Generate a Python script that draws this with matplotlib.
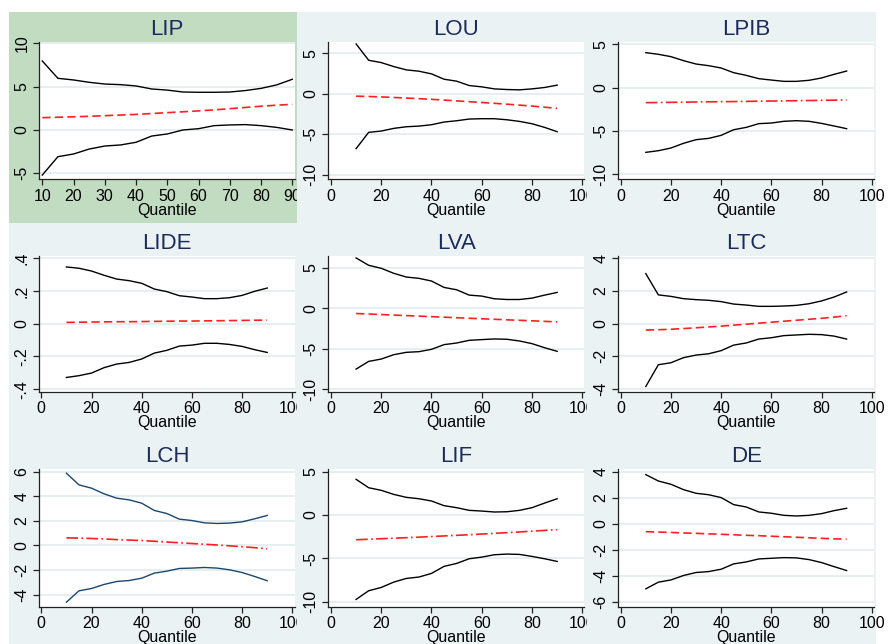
import matplotlib
matplotlib.use('Agg')
import matplotlib.pyplot as plt
from matplotlib.patches import Rectangle

plt.rcParams['font.family'] = ['Liberation Sans', 'DejaVu Sans']

# kuantil (sumbu x) untuk semua panel
kuantil = [10, 15, 20, 25, 30, 35, 40, 45, 50, 55, 60, 65, 70, 75, 80, 85, 90]

# LIP
lip_atas = [7.96, 5.96, 5.77, 5.5, 5.3, 5.23, 5.08, 4.73, 4.6, 4.38, 4.35, 4.35, 4.38, 4.55, 4.8, 5.2, 5.85]
lip_bawah = [-5.2, -3.08, -2.77, -2.2, -1.85, -1.73, -1.42, -0.7, -0.46, 0.0, 0.15, 0.5, 0.58, 0.62, 0.5, 0.3, 0.0]
lip_koef = [1.42, 1.47, 1.52, 1.58, 1.65, 1.72, 1.8, 1.9, 2.0, 2.1, 2.2, 2.32, 2.46, 2.6, 2.74, 2.86, 2.96]

# LOU
lou_atas = [6.15, 4.14, 3.85, 3.36, 2.95, 2.79, 2.46, 1.8, 1.56, 1.02, 0.86, 0.61, 0.53, 0.49, 0.61, 0.78, 1.07]
lou_bawah = [-6.76, -4.75, -4.59, -4.26, -4.06, -3.98, -3.81, -3.48, -3.32, -3.11, -3.07, -3.07, -3.2, -3.4, -3.69, -4.14, -4.67]
lou_koef = [-0.29, -0.33, -0.38, -0.45, -0.52, -0.6, -0.68, -0.77, -0.87, -0.97, -1.07, -1.17, -1.28, -1.39, -1.51, -1.65, -1.8]

# LPIB
lpib_atas = [4.04, 3.85, 3.58, 3.12, 2.73, 2.54, 2.27, 1.73, 1.42, 1.04, 0.88, 0.73, 0.73, 0.85, 1.12, 1.54, 1.92]
lpib_bawah = [-7.46, -7.27, -6.96, -6.42, -6.0, -5.85, -5.5, -4.85, -4.58, -4.15, -4.08, -3.88, -3.81, -3.88, -4.12, -4.42, -4.73]
lpib_koef = [-1.73, -1.71, -1.69, -1.67, -1.65, -1.63, -1.62, -1.6, -1.58, -1.56, -1.54, -1.52, -1.5, -1.48, -1.46, -1.44, -1.42]

# LIDE
lide_atas = [0.347, 0.339, 0.322, 0.296, 0.273, 0.263, 0.247, 0.212, 0.196, 0.171, 0.163, 0.153, 0.153, 0.159, 0.173, 0.198, 0.218]
lide_bawah = [-0.329, -0.318, -0.302, -0.269, -0.247, -0.237, -0.216, -0.18, -0.163, -0.137, -0.131, -0.12, -0.12, -0.127, -0.139, -0.159, -0.176]
lide_koef = [0.008, 0.009, 0.01, 0.011, 0.012, 0.012, 0.013, 0.014, 0.015, 0.016, 0.016, 0.017, 0.018, 0.019, 0.02, 0.021, 0.022]

# LVA
lva_atas = [6.2, 5.29, 4.92, 4.3, 3.84, 3.68, 3.35, 2.56, 2.27, 1.61, 1.49, 1.16, 1.07, 1.07, 1.24, 1.61, 1.94]
lva_bawah = [-7.52, -6.57, -6.28, -5.74, -5.45, -5.37, -5.08, -4.5, -4.3, -3.97, -3.88, -3.8, -3.84, -4.05, -4.38, -4.88, -5.33]
lva_koef = [-0.66, -0.72, -0.79, -0.85, -0.92, -0.98, -1.05, -1.11, -1.18, -1.24, -1.31, -1.37, -1.44, -1.5, -1.56, -1.63, -1.69]

# LTC
ltc_atas = [3.06, 1.76, 1.67, 1.53, 1.47, 1.43, 1.35, 1.2, 1.14, 1.06, 1.06, 1.08, 1.12, 1.22, 1.39, 1.63, 1.94]
ltc_bawah = [-3.84, -2.51, -2.39, -2.08, -1.92, -1.84, -1.65, -1.31, -1.18, -0.94, -0.86, -0.73, -0.69, -0.65, -0.67, -0.76, -0.94]
ltc_koef = [-0.39, -0.37, -0.34, -0.3, -0.25, -0.2, -0.15, -0.09, -0.03, 0.03, 0.09, 0.15, 0.21, 0.27, 0.33, 0.4, 0.49]

# LCH
lch_atas = [5.88, 4.93, 4.66, 4.2, 3.85, 3.71, 3.44, 2.85, 2.6, 2.14, 2.03, 1.84, 1.79, 1.82, 1.92, 2.17, 2.44]
lch_bawah = [-4.61, -3.69, -3.5, -3.17, -2.93, -2.85, -2.66, -2.25, -2.09, -1.87, -1.84, -1.79, -1.84, -1.98, -2.2, -2.52, -2.87]
lch_koef = [0.62, 0.6, 0.57, 0.53, 0.48, 0.44, 0.4, 0.34, 0.28, 0.22, 0.16, 0.1, 0.04, -0.03, -0.1, -0.18, -0.27]

# LIF
lif_atas = [4.12, 3.15, 2.85, 2.38, 2.04, 1.88, 1.62, 1.08, 0.85, 0.54, 0.46, 0.35, 0.38, 0.54, 0.85, 1.38, 1.88]
lif_bawah = [-9.73, -8.73, -8.35, -7.73, -7.31, -7.15, -6.73, -5.92, -5.58, -5.04, -4.85, -4.58, -4.5, -4.54, -4.77, -5.04, -5.35]
lif_koef = [-2.85, -2.79, -2.73, -2.67, -2.61, -2.55, -2.48, -2.41, -2.34, -2.27, -2.19, -2.11, -2.03, -1.95, -1.86, -1.77, -1.69]

# DE
de_atas = [3.78, 3.29, 3.04, 2.63, 2.35, 2.24, 2.02, 1.48, 1.3, 0.92, 0.82, 0.66, 0.61, 0.66, 0.79, 1.02, 1.2]
de_bawah = [-4.97, -4.46, -4.29, -3.95, -3.72, -3.65, -3.47, -3.06, -2.91, -2.68, -2.63, -2.58, -2.6, -2.73, -2.96, -3.27, -3.57]
de_koef = [-0.59, -0.62, -0.65, -0.69, -0.72, -0.76, -0.79, -0.83, -0.87, -0.9, -0.94, -0.98, -1.02, -1.06, -1.1, -1.14, -1.17]

judul = ['LIP', 'LOU', 'LPIB', 'LIDE', 'LVA', 'LTC', 'LCH', 'LIF', 'DE']
data = [(lip_atas, lip_bawah, lip_koef), (lou_atas, lou_bawah, lou_koef),
        (lpib_atas, lpib_bawah, lpib_koef), (lide_atas, lide_bawah, lide_koef),
        (lva_atas, lva_bawah, lva_koef), (ltc_atas, ltc_bawah, ltc_koef),
        (lch_atas, lch_bawah, lch_koef), (lif_atas, lif_bawah, lif_koef),
        (de_atas, de_bawah, de_koef)]

yticks = [[-5, 0, 5, 10], [-10, -5, 0, 5], [-10, -5, 0, 5],
          [-0.4, -0.2, 0, 0.2, 0.4], [-10, -5, 0, 5], [-4, -2, 0, 2, 4],
          [-4, -2, 0, 2, 4, 6], [-10, -5, 0, 5], [-6, -4, -2, 0, 2, 4]]
ylabels = [['-5', '0', '5', '10'], ['-10', '-5', '0', '5'], ['-10', '-5', '0', '5'],
           ['-.4', '-.2', '0', '.2', '.4'], ['-10', '-5', '0', '5'], ['-4', '-2', '0', '2', '4'],
           ['-4', '-2', '0', '2', '4', '6'], ['-10', '-5', '0', '5'], ['-6', '-4', '-2', '0', '2', '4']]
ylims = [(-5.69, 10.15), (-10.54, 6.39), (-10.57, 5.27),
         (-0.416, 0.417), (-10.31, 6.5), (-4.16, 4.17),
         (-4.98, 6.22), (-10.57, 5.31), (-6.34, 4.21)]
# gaya garis koefisien: putus-putus atau titik-garis
gaya = ['dash', 'dash', 'dashdot', 'dash', 'dash', 'dash', 'dashdot', 'dashdot', 'dash']

W, H = 892, 644
fig = plt.figure(figsize=(W / 100, H / 100), dpi=100)
fig.patch.set_facecolor('white')

bg = '#eaf2f3'
hijau = '#c2dcc2'
kolom = [9, 297, 587, 876]
baris = [12, 223, 433.5, 644]


def kotak(x0, y0, x1, y1, warna, z):
    fig.add_artist(Rectangle((x0 / W, 1 - y1 / H), (x1 - x0) / W, (y1 - y0) / H,
                             transform=fig.transFigure, facecolor=warna,
                             edgecolor='none', zorder=z))


for c in range(3):
    kotak(kolom[c], baris[0], kolom[c + 1], baris[3], bg, 2 * c - 0.5)
kotak(kolom[0], baris[0], kolom[1], baris[1], hijau, -0.4)

# posisi area plot (piksel)
kiri = [39.3, 328.3, 618.3]
kanan = [295, 584.3, 874]
atas = [42, 255.5, 469]
bawah = [179.3, 391.7, 606.7]
xlims = [(-0.8, 101.07), (-1.06, 100.8), (-0.96, 100.9)]

for i in range(9):
    r, c = divmod(i, 3)
    l, rr, t, b = kiri[c], kanan[c], atas[r], bawah[r]
    ax = fig.add_axes([l / W, 1 - b / H, (rr - l) / W, (b - t) / H], zorder=2 * c)
    ax.set_facecolor('white')
    hi, lo, mid = data[i]
    warna = '#1a476f' if judul[i] == 'LCH' else 'black'
    ax.plot(kuantil, hi, color=warna, lw=1.0)
    ax.plot(kuantil, lo, color=warna, lw=1.0)
    if gaya[i] == 'dash':
        ax.plot(kuantil, mid, color='#ff2020', lw=1.2, dashes=(5, 2.5))
    else:
        ax.plot(kuantil, mid, color='#ff2020', lw=1.2, dashes=(7, 2, 1, 2))

    if i == 0:
        ax.set_xlim(9.04, 90.86)
        ax.set_xticks([10, 20, 30, 40, 50, 60, 70, 80, 90])
    else:
        ax.set_xlim(*xlims[c])
        ax.set_xticks([0, 20, 40, 60, 80, 100])
    ax.set_ylim(*ylims[i])
    ax.set_yticks(yticks[i])
    ax.set_yticklabels(ylabels[i], rotation=90, va='center')

    ax.yaxis.grid(True, color='#e2ebee', lw=1.2)
    ax.set_axisbelow(True)
    for s in ['top', 'right']:
        ax.spines[s].set_visible(False)
    for s in ['left', 'bottom']:
        ax.spines[s].set_color('#222222')
        ax.spines[s].set_linewidth(0.9)
    ax.tick_params(direction='out', length=4, width=0.9, labelsize=11.5,
                   color='#222222', pad=3)
    ax.set_xlabel('Quantile', fontsize=11.5, labelpad=-1)
    ax.set_title(judul[i], fontsize=16, color='#1c2b59', pad=5)

plt.savefig('out.png', dpi=100)
